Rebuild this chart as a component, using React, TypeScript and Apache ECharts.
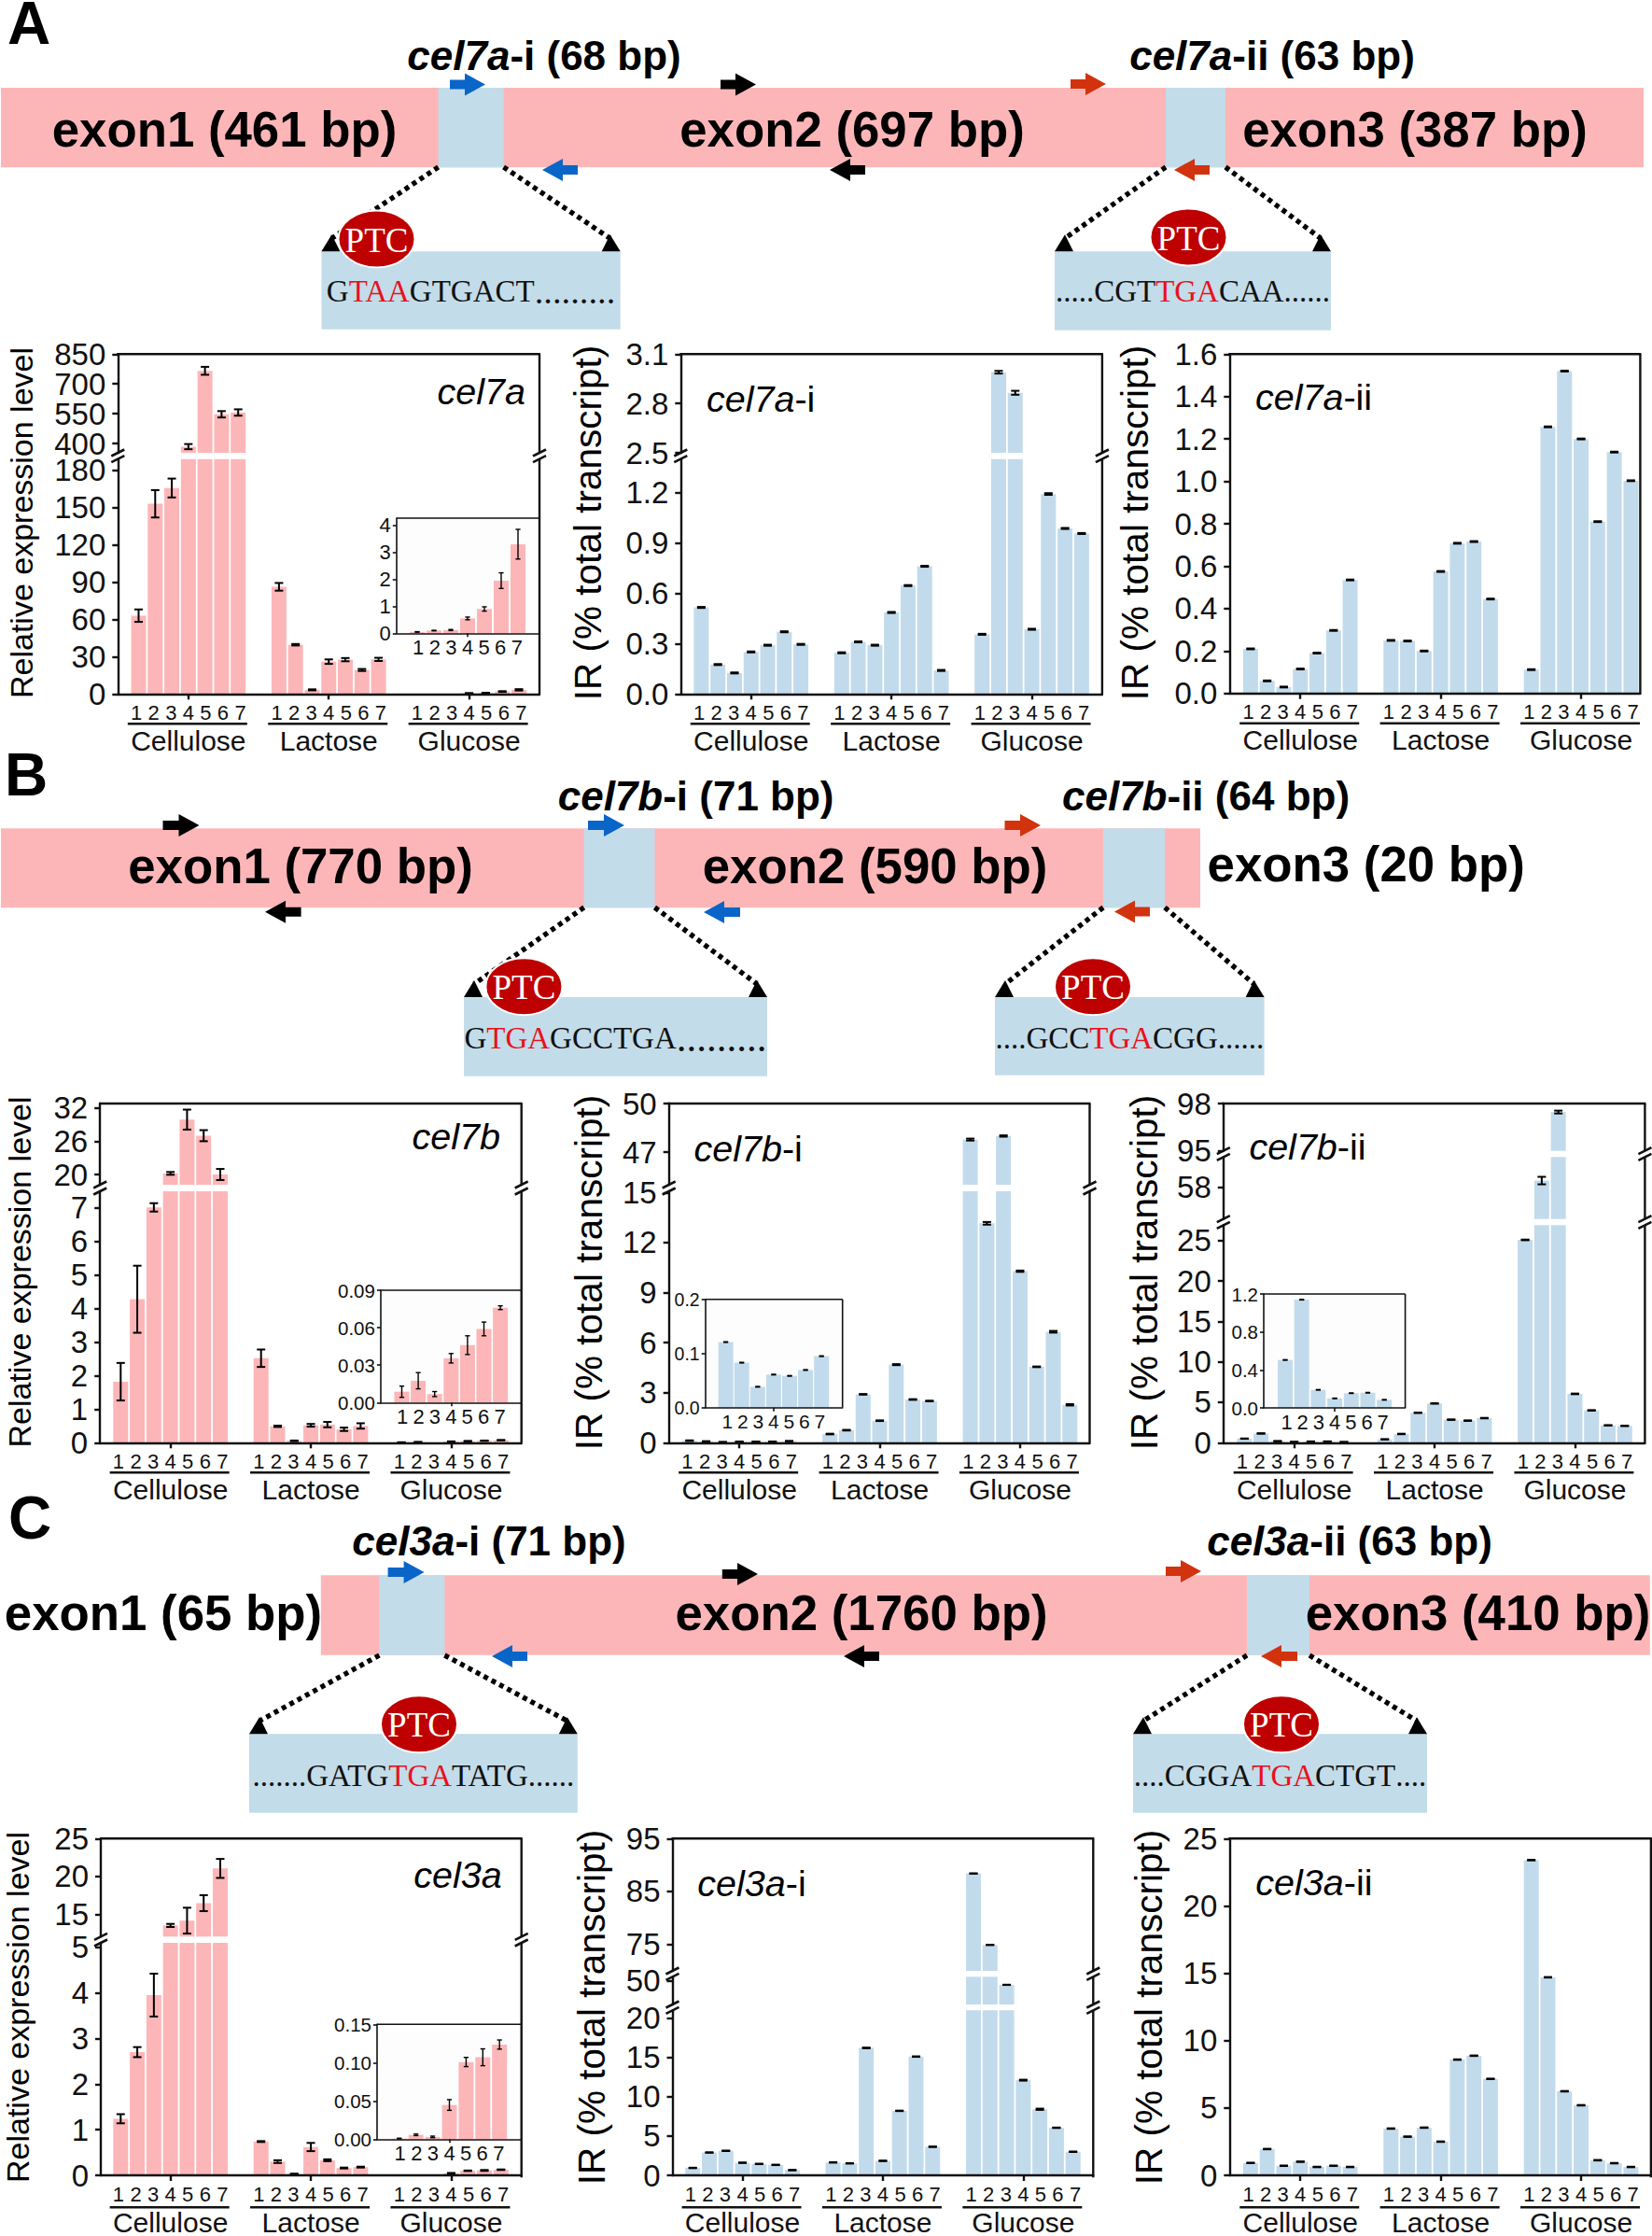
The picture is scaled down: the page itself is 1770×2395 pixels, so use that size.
import React, { useEffect, useRef } from "react";
import * as echarts from "echarts";

// ---------- data ----------
const barLabels = ["1", "2", "3", "4", "5", "6", "7"];
const carbonSources = ["Cellulose", "Lactose", "Glucose"];

const cel7aValues = [63, 153, 165.7, 384, 766, 547, 556, 86.2, 39.6, 3.3, 26, 27.6, 19.3, 27.8, 0.05, 0.1, 0.12, 0.55, 0.9, 1.95, 3.3];
const cel7aErrors = [5, 11, 7.6, 13, 20, 16, 16, 3.1, 0.6, 0.4, 1.8, 1.3, 0.8, 1.3, 0, 0, 0, 0.05, 0.08, 0.29, 0.55];
const cel7aInsetValues = [0.05, 0.1, 0.12, 0.55, 0.9, 1.95, 3.3];
const cel7aInsetErrors = [0.01, 0.01, 0.02, 0.05, 0.08, 0.29, 0.55];

const cel7aIValues = [0.515, 0.175, 0.125, 0.25, 0.29, 0.37, 0.295, 0.245, 0.31, 0.29, 0.485, 0.645, 0.76, 0.14, 0.355, 2.99, 2.865, 0.385, 1.19, 0.985, 0.955];
const cel7aIErrors = [0.003, 0.003, 0.003, 0.003, 0.003, 0.003, 0.003, 0.003, 0.003, 0.003, 0.003, 0.003, 0.003, 0.003, 0.003, 0.008, 0.012, 0.003, 0.005, 0.003, 0.003];

const cel7aIIValues = [0.21, 0.059, 0.03, 0.115, 0.19, 0.297, 0.535, 0.25, 0.247, 0.2, 0.575, 0.708, 0.716, 0.445, 0.112, 1.257, 1.52, 1.2, 0.81, 1.138, 1.003];
const cel7aIIErrors = [0.002, 0.002, 0.002, 0.002, 0.002, 0.002, 0.002, 0.002, 0.002, 0.002, 0.002, 0.002, 0.002, 0.002, 0.002, 0.002, 0.002, 0.002, 0.002, 0.002, 0.002];

const cel7bValues = [1.82, 4.28, 7.02, 20.2, 29.9, 27, 20, 2.52, 0.49, 0.055, 0.52, 0.54, 0.4, 0.5, 0.009, 0.018, 0.007, 0.036, 0.046, 0.059, 0.076];
const cel7bErrors = [0.56, 1.0, 0.125, 0.25, 1.8, 1.0, 1.0, 0.26, 0.02, 0.01, 0.04, 0.08, 0.05, 0.08, 0.005, 0.006, 0, 0.004, 0.007, 0.005, 0.002];
const cel7bInsetValues = [0.0087, 0.0175, 0.0068, 0.0355, 0.046, 0.059, 0.076];
const cel7bInsetErrors = [0.0045, 0.0065, 0.002, 0.0038, 0.0075, 0.0055, 0.0015];

const cel7bIValues = [0.121, 0.083, 0.0385, 0.061, 0.0586, 0.0695, 0.095, 0.52, 0.75, 2.9, 1.32, 4.68, 2.59, 2.5, 47.78, 13.15, 48.0, 10.28, 4.55, 6.65, 2.27];
const cel7bIErrors = [0.02, 0.01, 0.005, 0.01, 0.005, 0.005, 0.01, 0.02, 0.02, 0.02, 0.02, 0.03, 0.02, 0.02, 0.06, 0.08, 0.04, 0.04, 0.02, 0.05, 0.04];
const cel7bIInsetValues = [0.121, 0.083, 0.0385, 0.061, 0.0586, 0.0695, 0.095];
const cel7bIInsetErrors = [0.0006, 0.0006, 0.0006, 0.0006, 0.0006, 0.0006, 0.0006];

const cel7bIIValues = [0.505, 1.14, 0.19, 0.1, 0.155, 0.16, 0.085, 0.42, 1.08, 3.7, 4.85, 2.85, 2.73, 3.04, 25.08, 59.5, 97.46, 6.04, 4.0, 2.15, 2.08];
const cel7bIIErrors = [0.02, 0.03, 0.02, 0.01, 0.01, 0.01, 0.01, 0.02, 0.03, 0.03, 0.03, 0.03, 0.03, 0.03, 0.04, 0.85, 0.09, 0.04, 0.03, 0.02, 0.02];
const cel7bIIInsetValues = [0.505, 1.14, 0.19, 0.1, 0.155, 0.16, 0.085];
const cel7bIIInsetErrors = [0.003, 0.003, 0.003, 0.003, 0.003, 0.003, 0.003];

const cel3aValues = [1.24, 2.7, 3.95, 13.57, 14.2, 16.5, 21.07, 0.74, 0.3, 0.03, 0.62, 0.33, 0.16, 0.18, 0.001, 0.006, 0.003, 0.045, 0.1, 0.107, 0.123];
const cel3aErrors = [0.1, 0.11, 0.47, 0.2, 1.7, 1.05, 1.25, 0.01, 0.03, 0.005, 0.09, 0.02, 0.01, 0.01, 0, 0, 0, 0.007, 0.006, 0.01, 0.006];
const cel3aInsetValues = [0.0008, 0.0057, 0.003, 0.0447, 0.1008, 0.107, 0.1236];
const cel3aInsetErrors = [0.0005, 0.001, 0.001, 0.007, 0.006, 0.011, 0.006];

const cel3aIValues = [0.94, 2.9, 3.12, 1.6, 1.45, 1.33, 0.66, 1.64, 1.52, 16.2, 1.84, 8.2, 15.1, 3.63, 88.4, 74.9, 46.3, 12.1, 8.4, 6.05, 3.0];
const cel3aIErrors = [0.03, 0.03, 0.03, 0.03, 0.03, 0.03, 0.03, 0.03, 0.03, 0.04, 0.03, 0.03, 0.03, 0.03, 0.03, 0.03, 0.12, 0.06, 0.08, 0.03, 0.03];

const cel3aIIValues = [0.92, 1.95, 0.71, 1.01, 0.62, 0.71, 0.62, 3.47, 2.87, 3.54, 2.5, 8.59, 8.88, 7.16, 23.4, 14.7, 6.24, 5.2, 1.12, 0.9, 0.62];
const cel3aIIErrors = [0.02, 0.02, 0.02, 0.02, 0.02, 0.02, 0.02, 0.02, 0.02, 0.02, 0.02, 0.02, 0.02, 0.02, 0.02, 0.02, 0.02, 0.02, 0.02, 0.02, 0.02];

// tick labels
const t7aUp = ["400", "550", "700", "850"];
const t7aLow = ["0", "30", "60", "90", "120", "150", "180"];
const t7aIn = ["0", "1", "2", "3", "4"];
const t7aiUp = ["2.5", "2.8", "3.1"];
const t7aiLow = ["0.0", "0.3", "0.6", "0.9", "1.2"];
const t7aii = ["0.0", "0.2", "0.4", "0.6", "0.8", "1.0", "1.2", "1.4", "1.6"];
const t7bUp = ["20", "26", "32"];
const t7bLow = ["0", "1", "2", "3", "4", "5", "6", "7"];
const t7bIn = ["0.00", "0.03", "0.06", "0.09"];
const t7biUp = ["47", "50"];
const t7biLow = ["0", "3", "6", "9", "12", "15"];
const t7biIn = ["0.0", "0.1", "0.2"];
const t7biiTop = ["95", "98"];
const t7biiMid = ["58"];
const t7biiLow = ["0", "5", "10", "15", "20", "25"];
const t7biiIn = ["0.0", "0.4", "0.8", "1.2"];
const t3aUp = ["15", "20", "25"];
const t3aLow = ["0", "1", "2", "3", "4", "5"];
const t3aIn = ["0.00", "0.05", "0.10", "0.15"];
const t3aiTop = ["75", "85", "95"];
const t3aiMid = ["50"];
const t3aiLow = ["0", "5", "10", "15", "20"];
const t3aii = ["0", "5", "10", "15", "20", "25"];

// ---------- styles ----------
const PINK = "#fdb6b8";
const BLUE = "#c2dbec";
const SANS = "Liberation Sans";
const SERIF = "Liberation Serif";
const INK = "#111111";

type Seg = { top: number; bottom: number; min: number; max: number; ticks: string[] };
type Plot = {
  left: number; right: number; x0: number; segs: Seg[]; values: number[]; errors: number[]; color: string;
  pitch?: number; groupPitch?: number; labelPitch?: number; inset?: boolean; tickFont?: number; labelFont?: number;
  fullBox?: boolean; yMargin?: number;
};

const grids: any[] = [];
const xAxes: any[] = [];
const yAxes: any[] = [];
const series: any[] = [];
const gfx: any[] = [];

const seg = (top: number, bottom: number, min: number, max: number, ticks: string[]): Seg => ({ top, bottom, min, max, ticks });

function gLine(x1: number, y1: number, x2: number, y2: number, w = 2.4, color = INK) {
  gfx.push({ type: "line", z: 30, shape: { x1, y1, x2, y2 }, style: { stroke: color, lineWidth: w } });
}

function addPlot(p: Plot) {
  const pitch = p.pitch ?? 17.78;
  const groupPitch = p.groupPitch ?? 150.4;
  const labelPitch = p.labelPitch ?? 18.56;
  const inset = !!p.inset;
  const nGroups = p.values.length / 7;
  const gapSlots = groupPitch / pitch;
  const lw = inset ? 1.6 : 2.4;
  const xMin = (p.left - p.x0) / pitch;
  const xMax = (p.right - p.x0) / pitch;
  const xOf = (idx: number) => Math.floor(idx / 7) * gapSlots + (idx % 7);
  const centers = Array.from({ length: nGroups }, (_, g) => g * gapSlots + 3);
  const labelVals: number[] = [];
  centers.forEach((c) => barLabels.forEach((_, i) => labelVals.push(c + ((i - 3) * labelPitch) / pitch)));
  const tickFont = p.tickFont ?? (inset ? 21 : 33);
  const labelFont = p.labelFont ?? 22;

  p.segs.forEach((s, si) => {
    const last = si === p.segs.length - 1;
    const gridIndex = grids.length;
    grids.push({
      left: p.left, top: s.top, width: p.right - p.left, height: s.bottom - s.top,
      show: inset, backgroundColor: inset ? "#fdfdfd" : "transparent", borderWidth: 0, z: inset ? 5 : 0,
    });
    const xIndex = xAxes.length;
    xAxes.push({
      type: "value", gridIndex, min: xMin, max: xMax, position: "bottom", show: last, z: inset ? 8 : 3,
      splitLine: { show: false },
      axisLine: { show: true, onZero: false, lineStyle: { color: INK, width: lw } },
      axisTick: { show: true, customValues: centers, length: inset ? 4 : 6, lineStyle: { color: INK, width: lw } },
      axisLabel: {
        show: true, customValues: labelVals, margin: inset ? 4 : 9, color: INK, fontFamily: SANS, fontSize: labelFont,
        showMinLabel: true, showMaxLabel: true, hideOverlap: false,
        formatter: (v: number) => {
          const k = labelVals.findIndex((u) => Math.abs(u - v) < 1e-6);
          return k < 0 ? "" : barLabels[k % 7];
        },
      },
    });
    if (last && !inset) {
      xAxes.push({
        type: "value", gridIndex, min: xMin, max: xMax, position: "bottom", offset: 35,
        splitLine: { show: false }, axisLine: { show: false }, axisTick: { show: false },
        axisLabel: {
          show: true, customValues: centers, margin: 0, color: INK, fontFamily: SANS, fontSize: 30,
          showMinLabel: true, showMaxLabel: true, hideOverlap: false,
          formatter: (v: number) => {
            const k = centers.findIndex((u) => Math.abs(u - v) < 1e-6);
            return k < 0 ? "" : carbonSources[k];
          },
        },
      });
    }
    const yIndex = yAxes.length;
    const tickVals = s.ticks.map(Number);
    const margin = p.yMargin ?? (inset ? 6 : 13);
    const yLabel = (vals: number[]) => ({
      show: true, customValues: vals, margin, color: INK, fontFamily: SANS, fontSize: tickFont,
      showMinLabel: true, showMaxLabel: true, hideOverlap: false,
      formatter: (v: number) => {
        const k = tickVals.findIndex((u) => Math.abs(u - v) < 1e-9);
        return k < 0 ? "" : s.ticks[k];
      },
    });
    // ticks closer than the label height: share the labels between two axes so none is dropped
    const tickGap = tickVals.length > 1 ? ((s.bottom - s.top) / (s.max - s.min)) * (tickVals[1] - tickVals[0]) : 999;
    const split = tickGap < tickFont * 1.15;
    const mainVals = split ? tickVals.filter((_, i) => i % 2 === 0) : tickVals;
    yAxes.push({
      type: "value", gridIndex, min: s.min, max: s.max, position: "left", z: inset ? 8 : 3,
      splitLine: { show: false },
      axisLine: { show: true, onZero: false, lineStyle: { color: INK, width: lw } },
      axisTick: { show: true, customValues: tickVals, length: inset ? 4 : 6, lineStyle: { color: INK, width: lw } },
      axisLabel: yLabel(mainVals),
    });
    if (split) {
      yAxes.push({
        type: "value", gridIndex, min: s.min, max: s.max, position: "left", z: inset ? 8 : 3,
        splitLine: { show: false }, axisLine: { show: false, onZero: false }, axisTick: { show: false },
        axisLabel: yLabel(tickVals.filter((_, i) => i % 2 === 1)),
      });
    }
    const barData = p.values.map((v, i) => [xOf(i), v]).filter((d) => d[1] >= s.min);
    series.push({
      type: "bar", xAxisIndex: xIndex, yAxisIndex: yIndex, data: barData, barWidth: 16, clip: true,
      itemStyle: { color: p.color }, silent: true, z: inset ? 6 : 2,
    });
    const errData = p.values
      .map((v, i) => [xOf(i), v, p.errors[i]])
      .filter((d) => d[1] >= s.min && d[1] <= s.max && d[2] > 0);
    const cap = inset ? 2.6 : 4.5;
    const ew = inset ? 1.4 : 2;
    series.push({
      type: "custom", xAxisIndex: xIndex, yAxisIndex: yIndex, data: errData, silent: true, z: inset ? 7 : 3,
      encode: { x: 0, y: 1 },
      renderItem: (_: any, api: any) => {
        const x = api.value(0), v = api.value(1), e = api.value(2);
        const lo = api.coord([x, v - e]);
        const hi = api.coord([x, v + e]);
        const st = { stroke: "#000", lineWidth: ew, fill: "none" };
        return {
          type: "group",
          children: [
            { type: "line", shape: { x1: lo[0], y1: lo[1], x2: hi[0], y2: hi[1] }, style: st },
            { type: "line", shape: { x1: lo[0] - cap, y1: lo[1], x2: lo[0] + cap, y2: lo[1] }, style: st },
            { type: "line", shape: { x1: hi[0] - cap, y1: hi[1], x2: hi[0] + cap, y2: hi[1] }, style: st },
          ],
        };
      },
    });
  });

  // frame parts that are not axes
  const top = p.segs[0].top;
  if (inset) {
    gLine(p.left, top, p.right, top, 1.6);
    if (p.fullBox) gLine(p.right, top, p.right, p.segs[0].bottom, 1.6);
  } else {
    gLine(p.left - 1, top, p.right + 1, top, 2.4);
    p.segs.forEach((s) => gLine(p.right, s.top, p.right, s.bottom, 2.4));
    p.segs.slice(0, -1).forEach((s, i) => {
      const next = p.segs[i + 1];
      [p.left, p.right].forEach((x) => {
        gLine(x - 7, s.bottom + 3.5, x + 7, s.bottom - 3.5, 2.6);
        gLine(x - 7, next.top + 3.5, x + 7, next.top - 3.5, 2.6);
      });
    });
    const bottom = p.segs[p.segs.length - 1].bottom;
    centers.forEach((_, g) => {
      const c = p.x0 + 3 * pitch + g * groupPitch;
      gLine(c - 65, bottom + 32, c + 63, bottom + 32, 2.6);
    });
  }
}

function richText(x: number, y: number, text: string, rich: any, align = "left") {
  gfx.push({ type: "text", z: 40, x, y, style: { text, rich, align, verticalAlign: "middle" } });
}
const geneRich = (fs: number) => ({
  i: { fontFamily: SANS, fontSize: fs, fontStyle: "italic", fill: "#000" },
  n: { fontFamily: SANS, fontSize: fs, fill: "#000" },
});
const gene = (x: number, y: number, name: string, suffix: string, align = "left") =>
  richText(x, y, `{i|${name}}` + (suffix ? `{n|${suffix}}` : ""), geneRich(39.5), align);
const boldRich = {
  i: { fontFamily: SANS, fontSize: 44, fontStyle: "italic", fontWeight: "bold", fill: "#000" },
  n: { fontFamily: SANS, fontSize: 44, fontWeight: "bold", fill: "#000" },
};
const introTitle = (cx: number, y: number, name: string, rest: string) =>
  richText(cx, y, `{i|${name}}{n|${rest}}`, boldRich, "center");

function vTitle(x: number, y: number, text: string, fs: number) {
  gfx.push({
    type: "text", z: 40, x, y, rotation: Math.PI / 2,
    style: { text, align: "center", verticalAlign: "middle", fontFamily: SANS, fontSize: fs, fill: "#000" },
  });
}
function label(x: number, y: number, text: string, fs: number, bold = true, family = SANS, fill = "#000", z = 40) {
  gfx.push({
    type: "text", z, x, y,
    style: { text, align: "center", verticalAlign: "middle", fontFamily: family, fontSize: fs, fontWeight: bold ? "bold" : "normal", fill },
  });
}
function rect(x: number, y: number, w: number, h: number, fill: string) {
  gfx.push({ type: "rect", z: 20, shape: { x, y, width: w, height: h }, style: { fill } });
}
function arrow(x0: number, x1: number, cy: number, dir: number, fill: string) {
  const head = 22, sh = 5, hh = 12;
  const pts =
    dir > 0
      ? [[x0, cy - sh], [x1 - head, cy - sh], [x1 - head, cy - hh], [x1, cy], [x1 - head, cy + hh], [x1 - head, cy + sh], [x0, cy + sh]]
      : [[x1, cy - sh], [x0 + head, cy - sh], [x0 + head, cy - hh], [x0, cy], [x0 + head, cy + hh], [x0 + head, cy + sh], [x1, cy + sh]];
  gfx.push({ type: "polygon", z: 25, shape: { points: pts }, style: { fill } });
}
function dotted(x1: number, y1: number, tx: number, ty: number, s: number) {
  const ax = tx + s * 11, ay = ty - 18;
  gfx.push({
    type: "line", z: 22, shape: { x1, y1, x2: ax, y2: ay + 4 },
    style: { stroke: "#000", lineWidth: 5.4, lineDash: [5, 4.5] },
  });
  gfx.push({
    type: "polygon", z: 23,
    shape: { points: [[tx, ty], [tx + s * 20, ty], [ax, ay]] },
    style: { fill: "#000" },
  });
}
const seqRich = (fs: number, dotFs: number) => ({
  k: { fontFamily: SERIF, fontSize: fs, fill: "#111" },
  r: { fontFamily: SERIF, fontSize: fs, fill: "#e8121c" },
  d: { fontFamily: SERIF, fontSize: dotFs, fill: "#111" },
});
const seqPart = (s: string, k: string) =>
  s.split(/(\.+)/).filter(Boolean).map((t) => (t[0] === "." ? `{d|${t}}` : `{${k}|${t}}`)).join("");
function box(x0: number, x1: number, y0: number, y1: number, fromL: number, fromR: number, fromY: number, px: number, py: number, a: string, b: string, c: string, fs: number, dotFs: number, seqY: number) {
  rect(x0, y0, x1 - x0, y1 - y0, "#c3dcea");
  dotted(fromL, fromY, x0, y0, 1);
  dotted(fromR, fromY, x1, y0, -1);
  gfx.push({ type: "ellipse", z: 28, shape: { cx: px, cy: py, rx: 41, ry: 30.5 }, style: { fill: "#be0000", stroke: "#fff", lineWidth: 2 } });
  label(px, py + 1, "PTC", 37, false, SERIF, "#fff", 45);
  richText((x0 + x1) / 2, seqY, seqPart(a, "k") + seqPart(b, "r") + seqPart(c, "k"), seqRich(fs, dotFs), "center");
}

// ---------- row A ----------
addPlot({
  left: 126.3, right: 578, x0: 148.5, color: PINK, values: cel7aValues, errors: cel7aErrors,
  segs: [seg(379.3, 485, 353, 850, t7aUp), seg(491.7, 743.3, 0, 189, t7aLow)],
});
addPlot({
  left: 424.8, right: 577, x0: 447, color: PINK, values: cel7aInsetValues, errors: cel7aInsetErrors, inset: true,
  pitch: 18, labelPitch: 17.6, tickFont: 22, yMargin: 6,
  segs: [seg(555, 678.3, 0, 4.265, t7aIn)],
});
addPlot({
  left: 729.3, right: 1180.9, x0: 751.4, color: BLUE, values: cel7aIValues, errors: cel7aIErrors,
  segs: [seg(379.3, 485, 2.5, 3.1, t7aiUp), seg(491.7, 743.3, 0, 1.398, t7aiLow)],
});
addPlot({
  left: 1317.3, right: 1757.4, x0: 1339.9, color: BLUE, values: cel7aIIValues, errors: cel7aIIErrors,
  segs: [seg(379.3, 742.7, 0, 1.6, t7aii)],
});
gene(563, 419, "cel7a", "", "right");
gene(757, 427, "cel7a", "-i");
gene(1345, 425, "cel7a", "-ii");
vTitle(23, 560, "Relative expression level", 34);
vTitle(630, 560, "IR (% total transcript)", 40.5);
vTitle(1216, 560, "IR (% total transcript)", 40.5);

// ---------- row B ----------
addPlot({
  left: 107.2, right: 558.7, x0: 129.3, color: PINK, values: cel7bValues, errors: cel7bErrors,
  segs: [seg(1182, 1269, 18.15, 32.8, t7bUp), seg(1276, 1545.3, 0, 7.5, t7bLow)],
});
addPlot({
  left: 407.9, right: 558, x0: 430.5, color: PINK, values: cel7bInsetValues, errors: cel7bInsetErrors, inset: true,
  pitch: 17.6, labelPitch: 17.4, tickFont: 20.5,
  segs: [seg(1382, 1502.3, 0, 0.09, t7bIn)],
});
addPlot({
  left: 716.7, right: 1167.5, x0: 738.8, color: BLUE, values: cel7bIValues, errors: cel7bIErrors,
  segs: [seg(1182, 1269, 45, 50, t7biUp), seg(1276, 1545.3, 0, 15.07, t7biLow)],
});
addPlot({
  left: 755.7, right: 902.7, x0: 777.6, color: BLUE, values: cel7bIInsetValues, errors: cel7bIInsetErrors, inset: true,
  pitch: 17.1, labelPitch: 16.5, tickFont: 19.5, labelFont: 21, fullBox: true,
  segs: [seg(1391.7, 1507.7, 0, 0.2, t7biIn)],
});
addPlot({
  left: 1310.8, right: 1762.4, x0: 1333.3, color: BLUE, values: cel7bIIValues, errors: cel7bIIErrors,
  segs: [
    seg(1182, 1232.7, 95, 98, t7biiTop),
    seg(1239.3, 1305.7, 50.8, 64.83, t7biiMid),
    seg(1312.3, 1545.3, 0, 26.9, t7biiLow),
  ],
});
addPlot({
  left: 1354, right: 1505.6, x0: 1377, color: BLUE, values: cel7bIIInsetValues, errors: cel7bIIInsetErrors, inset: true,
  pitch: 17.7, labelPitch: 17.2, tickFont: 20.5, fullBox: true,
  segs: [seg(1386, 1508, 0, 1.2, t7biiIn)],
});
gene(536, 1217, "cel7b", "", "right");
gene(743.5, 1229.5, "cel7b", "-i");
gene(1338.4, 1228, "cel7b", "-ii");
vTitle(21, 1362.5, "Relative expression level", 34);
vTitle(630.6, 1363, "IR (% total transcript)", 40.5);
vTitle(1225.5, 1363, "IR (% total transcript)", 40.5);

// ---------- row C ----------
addPlot({
  left: 108, right: 558.7, x0: 129.3, color: PINK, values: cel3aValues, errors: cel3aErrors,
  segs: [seg(1969.3, 2074.3, 12.1, 25, t3aUp), seg(2081, 2332.3, 0, 5.095, t3aLow)],
});
addPlot({
  left: 404, right: 558, x0: 427.8, color: PINK, values: cel3aInsetValues, errors: cel3aInsetErrors, inset: true,
  pitch: 17.9, labelPitch: 17.6, tickFont: 20.5,
  segs: [seg(2168.3, 2291.3, 0, 0.15, t3aIn)],
});
addPlot({
  left: 720.5, right: 1171.3, x0: 742.2, color: BLUE, values: cel3aIValues, errors: cel3aIErrors,
  segs: [
    seg(1969.3, 2111, 70, 95, t3aiTop),
    seg(2117.3, 2147, 28.3, 53.7, t3aiMid),
    seg(2153.3, 2332.3, 0, 20.98, t3aiLow),
  ],
});
addPlot({
  left: 1317.3, right: 1768.9, x0: 1339.9, color: BLUE, values: cel3aIIValues, errors: cel3aIIErrors,
  segs: [seg(1969.3, 2332.3, 0, 25, t3aii)],
});
gene(537.7, 2007.5, "cel3a", "", "right");
gene(747.3, 2017, "cel3a", "-i");
gene(1345.3, 2016, "cel3a", "-ii");
vTitle(19, 2150, "Relative expression level", 34);
vTitle(634.4, 2150, "IR (% total transcript)", 40.5);
vTitle(1231.2, 2150, "IR (% total transcript)", 40.5);

// ---------- gene diagrams ----------
const EX = PINK;
const IN = "#c3dcea";
const BK = "#000000";
const BL = "#0a65c8";
const RD = "#d1330e";
const EXON_FS = 52.8;

// A
rect(1, 94, 1760, 85.3, EX);
rect(469.6, 94, 70, 85.3, IN);
rect(1249, 94, 64, 85.3, IN);
label(240.5, 138, "exon1 (461 bp)", EXON_FS);
label(913, 138, "exon2 (697 bp)", EXON_FS);
label(1516, 138, "exon3 (387 bp)", EXON_FS);
introTitle(583, 59, "cel7a", "-i (68 bp)");
introTitle(1363, 59.5, "cel7a", "-ii (63 bp)");
arrow(482, 520, 90.5, 1, BL);
arrow(772, 810, 90.5, 1, BK);
arrow(581, 619, 182, -1, BL);
arrow(889, 927, 182, -1, BK);
arrow(1147, 1185, 90, 1, RD);
arrow(1258, 1296, 182, -1, RD);
box(344.4, 664.7, 269.3, 352.7, 469.6, 539.6, 179, 403.5, 256, "G", "TAA", "GTGACT.........", 33, 38.5, 311.7);
box(1130, 1426, 269.3, 353.7, 1249, 1313, 179, 1273.5, 254, ".....CGT", "TGA", "CAA......", 33, 33, 311.7);

// B
rect(1, 887.3, 1285, 85, EX);
rect(625.7, 887.3, 75.8, 85, IN);
rect(1182, 887.3, 66, 85, IN);
label(322, 927, "exon1 (770 bp)", EXON_FS);
label(937.6, 927, "exon2 (590 bp)", EXON_FS);
label(1463.7, 925.5, "exon3 (20 bp)", EXON_FS);
introTitle(745.6, 852.5, "cel7b", "-i (71 bp)");
introTitle(1292, 852.5, "cel7b", "-ii (64 bp)");
arrow(174.5, 213.5, 884, 1, BK);
arrow(284, 322.6, 976.7, -1, BK);
arrow(630, 669, 884, 1, BL);
arrow(754, 793, 977, -1, BL);
arrow(1076.5, 1115, 884, 1, RD);
arrow(1194, 1232, 976.5, -1, RD);
box(497, 822, 1068, 1152.7, 625.7, 701.5, 972, 561.4, 1056.7, "G", "TGA", "GCCTGA.........", 33, 43, 1111.7);
box(1066, 1354.6, 1068, 1151.7, 1182, 1248, 972, 1171, 1056.7, "....GCC", "TGA", "CGG......", 33, 33, 1111.7);

// C
rect(343.8, 1687.3, 1424, 85.4, EX);
rect(406.4, 1687.3, 70, 85.4, IN);
rect(1336, 1687.3, 67, 85.4, IN);
label(175, 1727, "exon1 (65 bp)", EXON_FS);
label(923, 1727, "exon2 (1760 bp)", EXON_FS);
label(1583.6, 1727, "exon3 (410 bp)", EXON_FS);
introTitle(524, 1650.5, "cel3a", "-i (71 bp)");
introTitle(1446, 1650, "cel3a", "-ii (63 bp)");
arrow(415.6, 454.6, 1684, 1, BL);
arrow(773.8, 812, 1686, 1, BK);
arrow(527, 565, 1774, -1, BL);
arrow(904, 942, 1774, -1, BK);
arrow(1249, 1287, 1683, 1, RD);
arrow(1351, 1390, 1774, -1, RD);
box(267, 618.8, 1857.3, 1941.7, 406.4, 476.4, 1773, 449, 1846.7, ".......GATG", "TGA", "TATG......", 33, 33, 1901.7);
box(1214, 1529, 1857.3, 1941.7, 1336, 1403, 1773, 1373, 1846.7, "....CGGA", "TGA", "CTGT....", 33, 33, 1901.7);

// panel letters
label(31, 25, "A", 64);
label(28, 829.5, "B", 64);
label(32, 1625.5, "C", 64);

export default function App() {
  const ref = useRef<HTMLDivElement>(null);
  useEffect(() => {
    const chart = echarts.init(ref.current!, null, { renderer: "svg" });
    chart.setOption({
      animation: false,
      backgroundColor: "#ffffff",
      textStyle: { fontFamily: SANS },
      grid: grids,
      xAxis: xAxes,
      yAxis: yAxes,
      series,
      graphic: { elements: gfx },
    });
    return () => chart.dispose();
  }, []);
  return <div ref={ref} style={{ position: "absolute", left: 0, top: 0, width: 1770, height: 2395 }} />;
}
